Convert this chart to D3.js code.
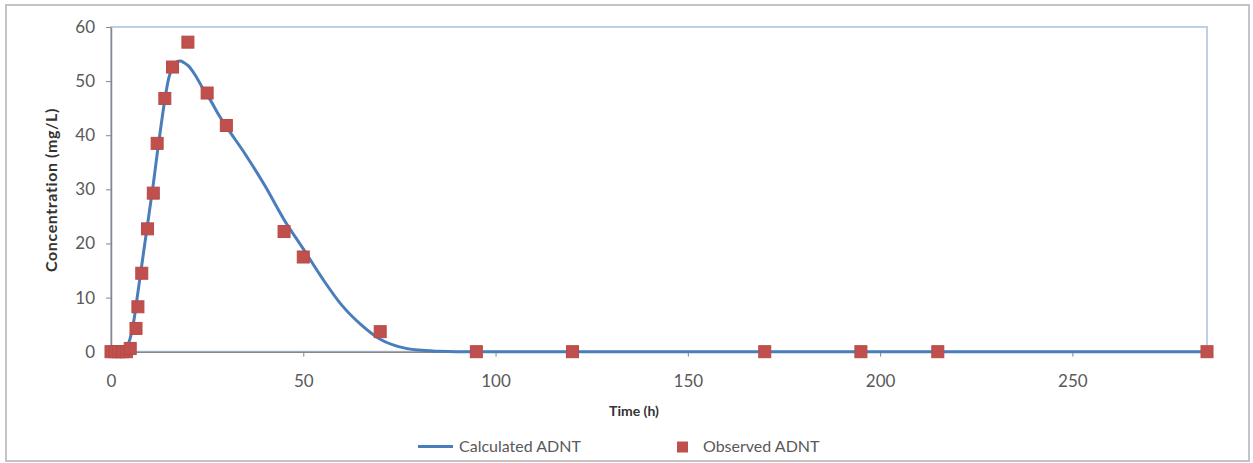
<!DOCTYPE html>
<html>
<head>
<meta charset="utf-8">
<title>ADNT concentration</title>
<script src="https://cdn.jsdelivr.net/npm/d3@7"></script>
<style>
  body { margin: 0; background: #fff; }
  svg { display: block; font-family: Lato, "Liberation Sans", sans-serif; }
</style>
</head>
<body>
<div id="chart"></div>
<script>
// observed points (time h, conc mg/L)
const obsTime = [0, 1, 2, 3, 4, 5, 6.5, 7, 8, 9.5, 11, 12, 14, 16, 20, 25, 30, 45, 50, 70, 95, 120, 170, 195, 215, 285];
const obsConc = [0, 0, 0, 0, 0, 0.6, 4.3, 8.3, 14.5, 22.7, 29.3, 38.5, 46.8, 52.6, 57.2, 47.8, 41.8, 22.2, 17.5, 3.7, 0, 0, 0, 0, 0, 0];

// calculated curve
const calcTime = [0, 2, 3, 4, 5, 6, 7, 8, 9, 10, 11, 12, 13, 14, 15, 16, 17, 18, 19, 20, 22, 24, 26, 28, 30, 35, 40, 45, 50, 55, 60, 65, 70, 75, 80, 85, 90, 100, 150, 200, 250, 285];
const calcConc = [0, 0, 0, 0.6, 2.5, 6, 11, 16, 21, 26, 31, 36.5, 41.7, 46.6, 50.5, 52.6, 53.5, 53.7, 53.4, 52.9, 51, 48.5, 46.3, 43.8, 41.6, 36.4, 30.7, 24.4, 19, 13.5, 8.6, 5, 2.3, 0.9, 0.3, 0.08, 0, 0, 0, 0, 0, 0];

const xTicks = [0, 50, 100, 150, 200, 250];
const yTicks = [0, 10, 20, 30, 40, 50, 60];

const W = 1253, H = 463;
const m = {left: 111, top: 27, right: 1207, bottom: 351.7};

const svg = d3.select("#chart").append("svg")
    .attr("width", W).attr("height", H);

// chart area border
svg.append("rect")
    .attr("x", 6).attr("y", 5)
    .attr("width", 1243).attr("height", 456)
    .attr("fill", "#fff")
    .attr("stroke", "#c4c4c4")
    .attr("stroke-width", 2);

const x = d3.scaleLinear().domain([0, 285]).range([m.left, m.right]);
const y = d3.scaleLinear().domain([0, 60]).range([m.bottom, m.top]);

// plot area border
svg.append("rect")
    .attr("x", m.left).attr("y", m.top)
    .attr("width", m.right - m.left).attr("height", m.bottom - m.top)
    .attr("fill", "none")
    .attr("stroke", "#bdd0e8")
    .attr("stroke-width", 2);

const gx = svg.append("g")
    .attr("transform", `translate(0,${m.bottom})`)
    .call(d3.axisBottom(x).tickValues(xTicks).tickSize(5).tickSizeOuter(0).tickPadding(18));

const gy = svg.append("g")
    .attr("transform", `translate(${m.left},0)`)
    .call(d3.axisLeft(y).tickValues(yTicks).tickSize(5).tickSizeOuter(0).tickPadding(11));

[gx, gy].forEach(g => {
    g.select(".domain").attr("stroke", "#878787").attr("stroke-width", 1.5);
    g.selectAll(".tick line").attr("stroke", "#878787");
    g.selectAll(".tick text")
        .attr("fill", "#595959")
        .style("font-family", "Lato, sans-serif")
        .style("font-size", "17px");
});

// axis titles
svg.append("text")
    .attr("x", 634).attr("y", 416)
    .attr("text-anchor", "middle")
    .attr("font-weight", "bold")
    .attr("font-size", "14px")
    .attr("fill", "#333")
    .text("Time (h)");

svg.append("text")
    .attr("transform", `translate(57,190) rotate(-90)`)
    .attr("text-anchor", "middle")
    .attr("font-weight", "bold")
    .attr("font-size", "16px")
    .attr("letter-spacing", "0.6px")
    .attr("fill", "#333")
    .text("Concentration (mg/L)");

// calculated line
const line = d3.line()
    .x((d, i) => x(calcTime[i]))
    .y(d => y(d))
    .curve(d3.curveMonotoneX);

svg.append("path")
    .datum(calcConc)
    .attr("d", line)
    .attr("fill", "none")
    .attr("stroke", "#4a7ebb")
    .attr("stroke-width", 3);

// observed markers
const sz = 12;
svg.append("g")
    .selectAll("rect")
    .data(obsConc)
    .join("rect")
    .attr("x", (d, i) => x(obsTime[i]) - sz / 2)
    .attr("y", d => y(d) - sz / 2)
    .attr("width", sz).attr("height", sz)
    .attr("fill", "#c0504d")
    .attr("stroke", "#b94a47")
    .attr("stroke-width", 1);

// legend
const lg = svg.append("g").style("font-size", "16px").attr("fill", "#595959");
lg.append("line")
    .attr("x1", 418).attr("x2", 453)
    .attr("y1", 446.5).attr("y2", 446.5)
    .attr("stroke", "#4a7ebb").attr("stroke-width", 3);
lg.append("text").attr("x", 459).attr("y", 452).text("Calculated ADNT");
lg.append("rect")
    .attr("x", 677).attr("y", 441.5).attr("width", 11).attr("height", 11)
    .attr("fill", "#c0504d");
lg.append("text").attr("x", 703).attr("y", 452).text("Observed ADNT");
</script>
</body>
</html>
